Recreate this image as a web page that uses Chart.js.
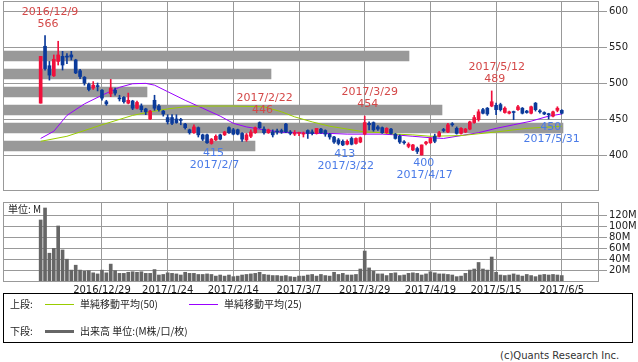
<!DOCTYPE html>
<html>
<head>
<meta charset="utf-8">
<script src="https://cdn.jsdelivr.net/npm/chart.js@4.4.1/dist/chart.umd.min.js"></script>
<style>
  body { margin:0; width:638px; height:362px; background:#fff; position:relative; overflow:hidden; font-family:"DejaVu Sans", sans-serif; }
  canvas { position:absolute; left:0; }
  #price { top:0; }
  #vol { top:195px; }
  #unit { position:absolute; left:8px; top:203px; font:10px "Noto Sans CJK JP"; color:#222; background:#fff; line-height:11px; padding-right:1px; }
  #legend { position:absolute; left:3px; top:293px; width:628px; height:48px; border:1px solid #000; font:10px "Noto Sans CJK JP"; color:#222; }
  #legend span { position:absolute; white-space:nowrap; line-height:12px; }
  #legend i { position:absolute; display:block; }
  #copy { position:absolute; left:500px; top:350px; font:10px "DejaVu Sans"; color:#333; white-space:nowrap; }
</style>
</head>
<body>
<canvas id="price" width="638" height="191"></canvas>
<canvas id="vol" width="638" height="100"></canvas>
<div id="unit">単位: M</div>
<div id="legend">
  <span style="left:6px;top:4px">上段:</span>
  <i style="left:41px;top:10px;width:29px;height:1px;background:#99cc00"></i>
  <span style="left:76px;top:4px">単純移動平均(50)</span>
  <i style="left:185px;top:10px;width:29px;height:1px;background:#9900ff"></i>
  <span style="left:220px;top:4px">単純移動平均(25)</span>
  <span style="left:6px;top:31px">下段:</span>
  <i style="left:41px;top:36px;width:29px;height:3px;background:#666"></i>
  <span style="left:76px;top:31px">出来高 単位:(M株/口/枚)</span>
</div>
<div id="copy">(c)Quants Research Inc.</div>
<script>
// daily candles, index 0 = 2016/12/8 ... 119 = 2017/6/5
const opens  = [472,551,524,510,530,537,537,539,532,517,508,498,493,496,490,474,485,490,479,480,
                472,475,465,468,464,450,476,468,461,452,452,450,449,443,435,431,438,428,428,416,
                421,428,428,438,435,435,430,421,426,431,445,436,431,432,433,434,443,432,429,430,
                429,434,432,430,436,434,429,425,421,419,415,423,416,418,429,444,445,439,438,431,
                436,429,426,418,412,407,409,400,416,417,426,426,435,432,443,437,430,432,436,445,
                449,463,465,468,469,470,459,458,460,463,465,461,458,472,461,459,457,454,462,462];
const highs  = [537,566,530,539,558,544,541,544,533,519,509,500,502,500,491,476,505,493,483,481,
                486,476,475,471,465,462,483,470,462,456,456,456,451,444,436,442,439,429,429,423,
                428,429,433,439,437,436,431,430,435,439,446,439,436,435,436,436,444,434,434,432,
                432,435,435,437,437,435,430,426,423,421,421,425,424,425,454,446,446,441,439,438,
                437,430,428,420,417,415,411,414,419,424,429,433,437,444,445,439,438,437,447,455,
                463,465,466,489,472,472,467,461,461,469,466,462,468,473,463,460,458,461,467,463];
const lows   = [472,518,504,509,525,518,527,532,513,506,497,489,491,489,476,469,481,483,475,472,
                471,463,464,460,456,449,462,461,454,443,442,444,442,436,429,430,425,420,416,415,
                420,421,427,430,428,428,419,419,424,430,437,429,430,425,429,430,431,428,427,427,
                425,423,428,429,430,426,422,416,414,413,414,414,415,417,428,435,433,434,430,430,
                429,422,416,415,410,406,402,400,414,416,417,425,432,431,440,429,429,431,435,444,
                447,457,455,467,456,461,458,457,449,462,457,458,457,461,458,456,450,453,460,457];
const closes = [537,520,511,533,539,525,536,536,514,509,500,491,497,495,479,471,493,486,478,474,
                476,465,473,463,460,461,465,463,457,446,444,445,448,438,431,439,428,422,417,422,
                426,422,432,431,429,429,422,428,432,438,438,431,435,428,432,432,432,430,431,431,
                430,430,430,437,431,429,425,418,416,414,419,415,423,424,445,442,435,436,431,437,
                430,423,418,417,415,414,405,414,418,423,419,431,434,442,442,430,437,436,446,452,
                460,458,457,474,463,463,465,460,459,467,458,459,467,463,460,457,456,460,465,458];
// volume, million shares
const volumes = [112,134,51,60,101,57,40,20,29,20,18,19,15,13,20,15,31,19,14,14,
                 16,17,16,17,14,14,21,11,12,15,14,13,11,16,14,14,12,12,13,12,
                 9,11,9,11,8,9,11,12,13,14,16,12,11,10,10,9,10,8,7,9,
                 9,11,12,9,12,10,9,16,12,14,11,11,12,22,55,24,18,13,13,10,
                 14,15,10,11,14,15,14,11,13,17,15,13,13,12,11,8,9,14,20,22,
                 34,22,20,44,16,11,10,11,13,11,9,12,10,8,11,12,11,12,11,10];
// moving averages (index, value)
const ma25Idx = [0,3,6,10,14,18,21,24,26,29,33,37,41,44,47,51,55,58,62,66,70,74,78,81,85,89,92,96,100,104,108,112,116,119];
const ma25Val = [423,433,455,471,483,494,499,499.5,497,488,476,465,454,444,439,435,431.5,431,430,430,429,429,429,428,426,424,423,427,431,437,442,447,454,457];
const ma50Idx = [0,6,14,21,25,29,33,37,44,51,55,58,62,66,70,74,78,81,85,89,96,104,111,119];
const ma50Val = [419,426,442,455,460,464,467,468,468,467,460,453,446,440,436,432,431,429,428,426,427,432,437,440];
// price-by-volume bands
const pvPrice = [537.5,512.5,487.5,462.5,437.5,412.5];
const pvVol   = [406,268,144,439,560,252];
// axis ticks
const tickIdx    = [14,29,44,59,74,89,104,119];
const tickLabels = ['2016/12/29','2017/1/24','2017/2/14','2017/3/7','2017/3/29','2017/4/19','2017/5/15','2017/6/5'];
const priceTicks = [400,450,500,550,600];
const volTicks   = [20,40,60,80,100,120];
// marked highs / lows
const hiIdx = [1,50,74,103];
const hiDates = ['2016/12/9','2017/2/22','2017/3/29','2017/5/12'];
const loIdx = [39,69,87,116];
const loDates = ['2017/2/7','2017/3/22','2017/4/17','2017/5/31'];

const UP = '#f0103c', DOWN = '#0b3a9a', GRID = '#999999';
const X_MIN = -8.6, X_MAX = 127.5;
const candleColor = opens.map((o, i) => closes[i] >= o ? UP : DOWN);

const frame = {
  id: 'frame',
  beforeDatasetsDraw(chart) {
    const a = chart.chartArea, ctx = chart.ctx;
    ctx.save();
    ctx.strokeStyle = GRID;
    ctx.lineWidth = 1;
    ctx.strokeRect(a.left + 0.5, a.top + 0.5, a.right - a.left - 1, a.bottom - a.top);
    ctx.restore();
  }
};

const marks = {
  id: 'marks',
  afterDatasetsDraw(chart) {
    const ctx = chart.ctx, xs = chart.scales.x, ys = chart.scales.y;
    ctx.save();
    ctx.font = '11px "DejaVu Sans"';
    ctx.textAlign = 'center';
    ctx.textBaseline = 'middle';
    ctx.fillStyle = '#d44848';
    hiIdx.forEach((i, k) => {
      const x = xs.getPixelForValue(i) + 3, y = ys.getPixelForValue(highs[i]);
      ctx.fillText(String(highs[i]), x, y - 11.5);
      ctx.fillText(hiDates[k], x + 2, y - 23.5);
    });
    ctx.fillStyle = '#4a7be8';
    loIdx.forEach((i, k) => {
      const x = xs.getPixelForValue(i) + 2, y = ys.getPixelForValue(lows[i]);
      ctx.fillText(String(lows[i]), x, y + 8.5);
      ctx.fillText(loDates[k], x + 1, y + 20.5);
    });
    ctx.restore();
  }
};

// right-hand value axis: fixed width, no extra label padding above/below
const fitRight = s => { s.width = 39; s.paddingTop = 0; s.paddingBottom = 0; };

const xAxis = (showLabels) => ({
  type: 'linear', min: X_MIN, max: X_MAX, offset: false,
  afterBuildTicks: s => { s.ticks = tickIdx.map(v => ({ value: v })); },
  afterFit: s => { s.height = showLabels ? 14 : 0; s.paddingLeft = 0; s.paddingRight = 0; },
  grid: { color: GRID, drawTicks: false, offset: false },
  border: { display: false },
  ticks: {
    display: showLabels, padding: 3, color: '#222', font: { family: 'DejaVu Sans', size: 10 },
    maxRotation: 0, autoSkip: false,
    callback: v => tickLabels[tickIdx.indexOf(v)]
  }
});

new Chart(document.getElementById('price'), {
  type: 'bar',
  data: {
    datasets: [
      { type: 'line', data: ma50Idx.map((x, k) => ({ x, y: ma50Val[k] })), borderColor: '#99cc00', borderWidth: 1, pointRadius: 0, order: 3 },
      { type: 'line', data: ma25Idx.map((x, k) => ({ x, y: ma25Val[k] })), borderColor: '#9900ff', borderWidth: 1, pointRadius: 0, order: 3 },
      { data: lows.map((l, i) => ({ x: i, y: [l, highs[i]] })), backgroundColor: candleColor, barThickness: 1, grouped: false, order: 2 },
      { data: opens.map((o, i) => ({ x: i, y: [Math.min(o, closes[i]), Math.max(o, closes[i])] })), backgroundColor: candleColor,
        barThickness: 3, minBarLength: 1, grouped: false, order: 1 },
      { indexAxis: 'y', xAxisID: 'xpv', yAxisID: 'y', data: pvPrice.map((p, k) => ({ x: pvVol[k], y: p })),
        backgroundColor: '#999999', barThickness: 10, grouped: false, order: 10 }
    ]
  },
  options: {
    responsive: false, animation: false,
    layout: { padding: { left: 3, top: 1, right: 0, bottom: 1 } },
    plugins: { legend: { display: false }, tooltip: { enabled: false } },
    scales: {
      x: xAxis(false),
      xpv: { type: 'linear', min: 0, max: 596, display: false, offset: false, grid: { offset: false } },
      y: {
        type: 'linear', position: 'right', min: 351.4, max: 613.9, offset: false, beginAtZero: false,
        afterBuildTicks: s => { s.ticks = priceTicks.map(v => ({ value: v })); },
        afterFit: fitRight,
        grid: { color: GRID, tickLength: 8, offset: false },
        border: { display: false },
        ticks: { padding: 2, color: '#222', autoSkip: false, font: { family: 'DejaVu Sans', size: 10 } }
      }
    }
  },
  plugins: [frame, marks]
});

new Chart(document.getElementById('vol'), {
  type: 'bar',
  data: {
    datasets: [
      { data: volumes.map((v, i) => ({ x: i, y: v })), backgroundColor: '#666666', barThickness: 3 }
    ]
  },
  options: {
    responsive: false, animation: false,
    layout: { padding: { left: 3, top: 7, right: 0, bottom: 0 } },
    plugins: { legend: { display: false }, tooltip: { enabled: false } },
    scales: {
      x: xAxis(true),
      y: {
        type: 'linear', position: 'right', min: 0, max: 145, offset: false,
        afterBuildTicks: s => { s.ticks = volTicks.map(v => ({ value: v })); },
        afterFit: fitRight,
        grid: { color: GRID, tickLength: 8 },
        border: { display: false },
        ticks: { padding: 2, color: '#222', autoSkip: false, font: { family: 'DejaVu Sans', size: 10 },
                 callback: v => v + 'M' }
      }
    }
  },
  plugins: [frame]
});
</script>
</body>
</html>
